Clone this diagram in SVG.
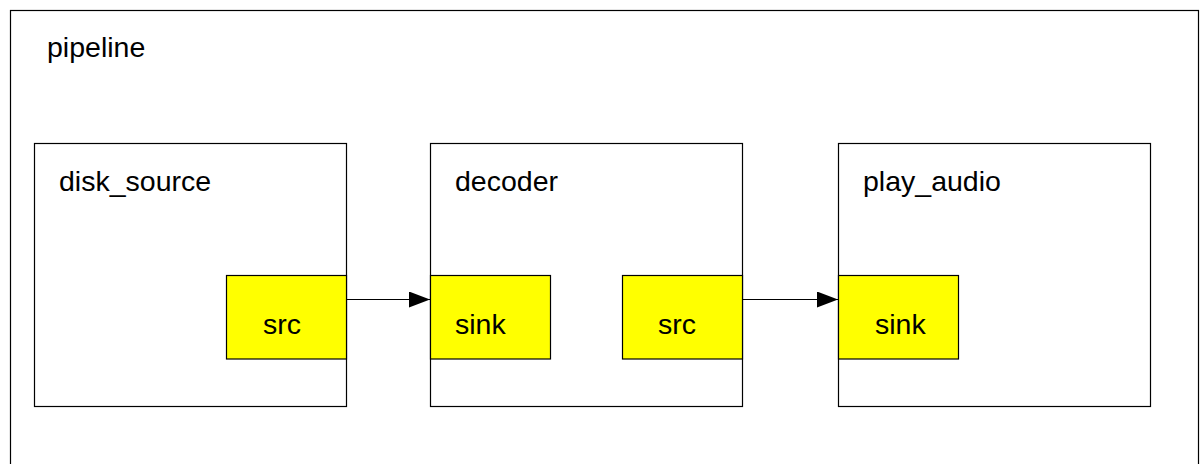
<svg xmlns="http://www.w3.org/2000/svg" width="1204" height="464" viewBox="0 0 1204 464">
  <style>
    .box { fill: #ffffff; stroke: #000000; stroke-width: 1.2; }
    .port { fill: #ffff00; stroke: #000000; stroke-width: 1.2; }
    .lbl { font-family: "Liberation Sans", Arial, sans-serif; font-size: 28.5px; fill: #000000; }
    .conn { stroke: #000000; stroke-width: 1.2; fill: none; }
  </style>
  <defs>
    <marker id="arrow" markerUnits="userSpaceOnUse" markerWidth="22" markerHeight="18" refX="21" refY="8" orient="auto">
      <polygon points="0,0 21,8 0,16" fill="#000000"/>
    </marker>
  </defs>
  <rect width="1204" height="464" fill="#ffffff"/>
  <g id="pipeline">
    <rect class="box" x="10.5" y="10.5" width="1188" height="470"/>
    <text class="lbl" x="47" y="57">pipeline</text>
  </g>
  <g id="disk_source">
    <rect class="box" x="34.5" y="143.5" width="312" height="263"/>
    <text class="lbl" x="59" y="191">disk_source</text>
  </g>
  <g id="disk_source_src">
    <rect class="port" x="226.5" y="275.5" width="120" height="83.5"/>
    <text class="lbl" x="263" y="334">src</text>
  </g>
  <g id="decoder">
    <rect class="box" x="430.5" y="143.5" width="312" height="263"/>
    <text class="lbl" x="455" y="191">decoder</text>
  </g>
  <g id="decoder_sink">
    <rect class="port" x="430.5" y="275.5" width="120" height="83.5"/>
    <text class="lbl" x="455" y="334">sink</text>
  </g>
  <g id="decoder_src">
    <rect class="port" x="622.5" y="275.5" width="120" height="83.5"/>
    <text class="lbl" x="658" y="334">src</text>
  </g>
  <g id="play_audio">
    <rect class="box" x="838.5" y="143.5" width="312" height="263"/>
    <text class="lbl" x="863" y="191">play_audio</text>
  </g>
  <g id="play_audio_sink">
    <rect class="port" x="838.5" y="275.5" width="120" height="83.5"/>
    <text class="lbl" x="875" y="334">sink</text>
  </g>
  <g id="connectors">
    <line class="conn" x1="346.5" y1="299.5" x2="430" y2="299.5" marker-end="url(#arrow)"/>
    <line class="conn" x1="742.5" y1="299.5" x2="838" y2="299.5" marker-end="url(#arrow)"/>
  </g>
</svg>
